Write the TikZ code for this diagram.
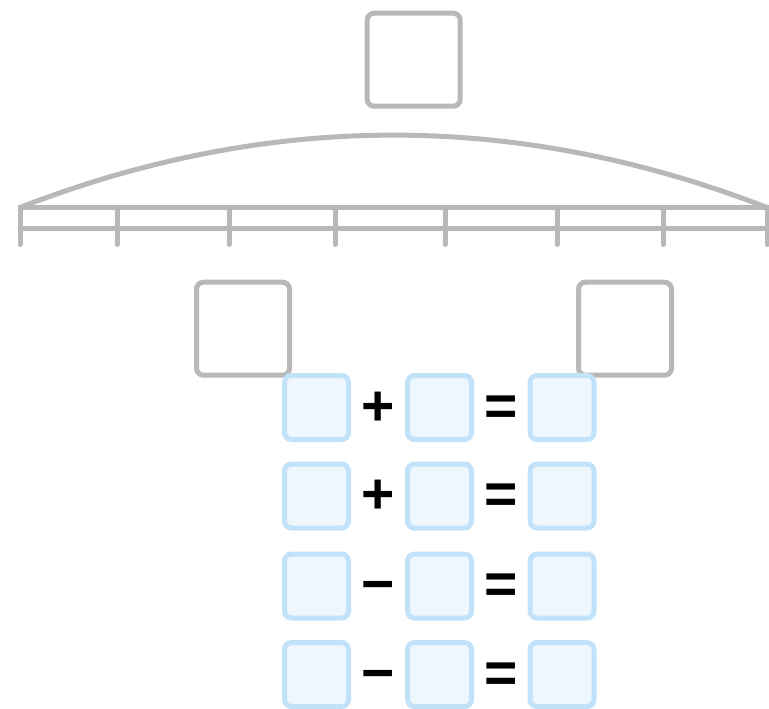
\documentclass[tikz,border=0pt]{standalone}
\usepackage{fontspec}
\setmainfont{Liberation Sans}
\usetikzlibrary{calc}
\definecolor{rulegray}{HTML}{B8B8B8}
\definecolor{slotline}{HTML}{C2E2FA}
\definecolor{slotfill}{HTML}{EEF6FE}
\tikzset{
        graybox/.style={draw=rulegray, line width=5pt, rounded corners=7pt, minimum size=93pt, inner sep=0pt},
        slot/.style={draw=slotline, fill=slotfill, line width=5pt, rounded corners=7pt, minimum size=64pt, inner sep=0pt},
        rail/.style={draw=rulegray, line width=5pt},
        tick/.style={draw=rulegray, line width=5pt, line cap=round},
        sign/.style={font=\fontsize{57}{57}\selectfont\bfseries, inner sep=0pt, text height=35pt, text depth=0pt}
          }
\begin{document}
\begin{tikzpicture}
        [x=1pt, y=-1pt]
        \useasboundingbox (0,0) rectangle (769,709);
        % whole and parts
        \node[graybox] (whole) at (413.7,59.7) {};
        \node[graybox] (partL) at (243,328.7) {};
        \node[graybox] (partR) at (625,328.7) {};
        % bar with ticks
        \coordinate (barL) at (20,207.5);
        \coordinate (barR) at (767,207.5);
        \draw[rail] (barL) .. controls (269,111) and (518,111) .. (barR);
        \draw[rail] (17.5,207.5) -- (769,207.5);
        \draw[rail] (17.5,228) -- (769,228);
        \foreach \x in {20,117,229,335,445,557,663,767}
          \draw[tick] (\x,207.5) -- (\x,244.5);
        % number sentences
        \foreach \y/\op [count=\r] in {407.5/+,496/+,586/−,674.5/−} {
          \node[slot] (a\r) at (316.5,\y) {};
          \node[slot] (b\r) at (439.5,\y) {};
          \node[slot] (c\r) at (562,\y) {};
          \node[sign] (op\r) at ($(a\r.east)!0.5!(b\r.west)$) {\op};
          \node[sign] (eq\r) at ($(b\r.east)!0.5!(c\r.west)$) {=};
        }
\end{tikzpicture}
\end{document}
